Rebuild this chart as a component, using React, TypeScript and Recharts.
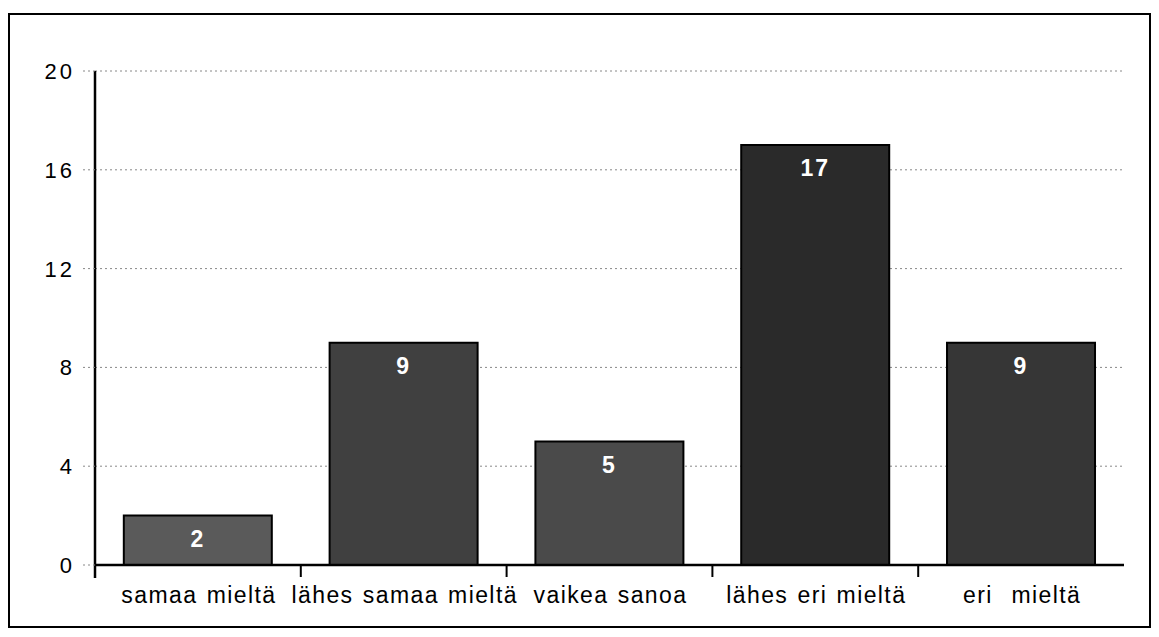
import React from 'react';
import { BarChart, Bar, XAxis, YAxis, CartesianGrid, LabelList, Cell } from 'recharts';

const categories = ['samaa mieltä', 'lähes samaa mieltä', 'vaikea sanoa', 'lähes eri mieltä', 'eri  mieltä'];
const counts = [2, 9, 5, 17, 9];
const yTicks = [0, 4, 8, 12, 16, 20];
const barFills = ['#5a5a5a', '#404040', '#4a4a4a', '#2a2a2a', '#363636'];

const data = categories.map((name, i) => ({ name, value: counts[i] }));

const CHART_W = 1139;
const CHART_H = 611;
const MARGIN = { top: 56, right: 25, left: 0, bottom: 0 };
const Y_AXIS_W = 85;
const X_AXIS_H = 61;
const bandWidth = (CHART_W - MARGIN.left - MARGIN.right - Y_AXIS_W) / categories.length;

const font = '"Liberation Sans", Arial, Helvetica, sans-serif';

const XTick = (props: any) => {
  const { x, y, payload, index } = props;
  const left = x - bandWidth / 2;
  const right = x + bandWidth / 2;
  return (
    <g>
      {index === 0 && <line x1={left} y1={y} x2={left} y2={y + 13} stroke="#000" strokeWidth={2.5} />}
      {index < categories.length - 1 && (
        <line x1={right} y1={y} x2={right} y2={y + 12} stroke="#000" strokeWidth={2} />
      )}
      <text
        x={x + 1}
        y={y + 38}
        textAnchor="middle"
        fontFamily={font}
        fontSize={23}
        letterSpacing={1.4}
        wordSpacing={1.5}
        fill="#000"
        style={{ whiteSpace: 'pre' }}
      >
        {payload.value}
      </text>
    </g>
  );
};

const YTick = (props: any) => {
  const { x, y, payload } = props;
  return (
    <g>
      <line x1={x - 12} y1={y} x2={x} y2={y} stroke="#888" strokeDasharray="2 3" />
      <text
        x={x - 20}
        y={y}
        dy={8}
        textAnchor="end"
        fontFamily={font}
        fontSize={22}
        letterSpacing={3}
        fill="#000"
      >
        {payload.value}
      </text>
    </g>
  );
};

export default function App() {
  return (
    <div
      style={{
        marginTop: 5,
        width: 1143,
        height: 615,
        border: '2px solid #000',
        boxSizing: 'border-box',
        background: '#fff',
      }}
    >
      <BarChart width={CHART_W} height={CHART_H} data={data} margin={MARGIN} barCategoryGap="14%">
        <CartesianGrid vertical={false} stroke="#888" strokeDasharray="2 3" />
        <XAxis
          dataKey="name"
          height={X_AXIS_H}
          axisLine={{ stroke: '#000', strokeWidth: 2.5 }}
          tickLine={false}
          tickSize={0}
          tickMargin={0}
          interval={0}
          tick={<XTick />}
        />
        <YAxis
          width={Y_AXIS_W}
          domain={[0, 20]}
          ticks={yTicks}
          axisLine={{ stroke: '#000', strokeWidth: 2.5 }}
          tickLine={false}
          tickSize={0}
          tickMargin={0}
          tick={<YTick />}
        />
        <Bar dataKey="value" stroke="#000" strokeWidth={2} isAnimationActive={false}>
          {data.map((d, i) => (
            <Cell key={d.name} fill={barFills[i]} />
          ))}
          <LabelList
            dataKey="value"
            position="insideTop"
            offset={15}
            fill="#fff"
            fontFamily={font}
            fontSize={23}
            fontWeight="bold"
            letterSpacing={2}
          />
        </Bar>
      </BarChart>
    </div>
  );
}
